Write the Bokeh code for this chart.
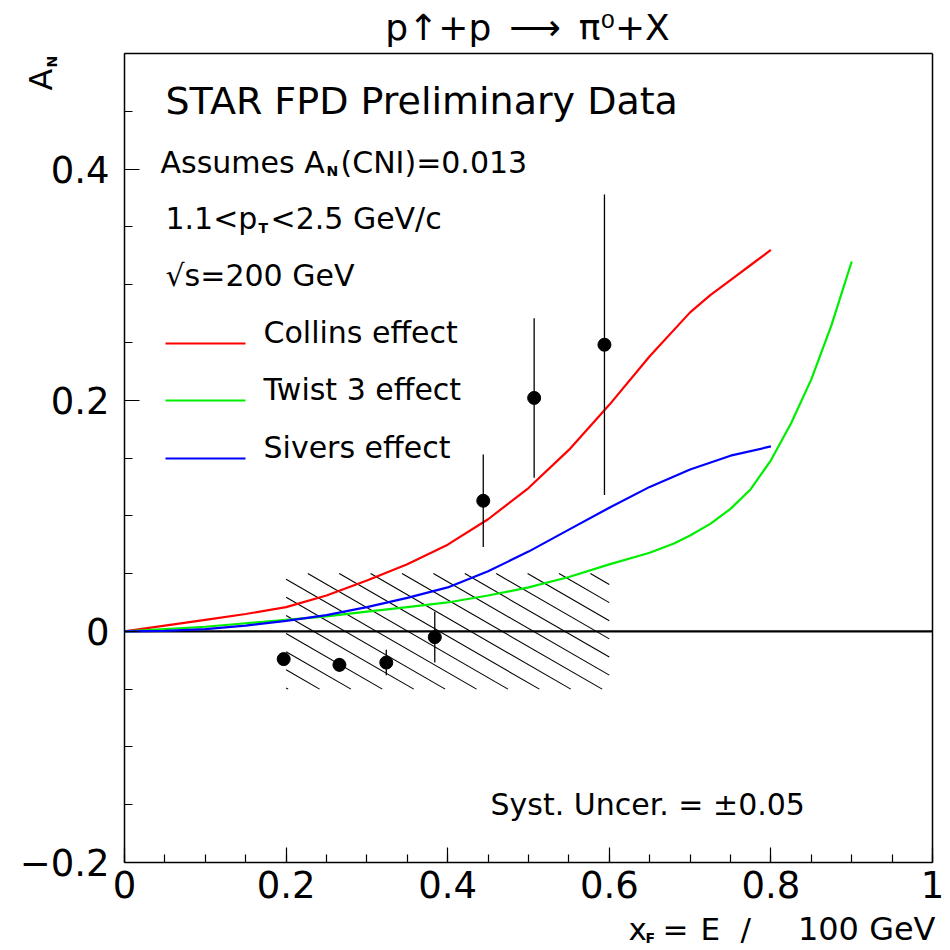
import numpy as np
from bokeh.plotting import figure
from bokeh.models import (Label, FixedTicker, CustomJSTickFormatter, Range1d,
                          LinearAxis)
from bokeh.embed import file_html
from bokeh.resources import INLINE

# ---------------- data ----------------
xf_points = [0.197, 0.266, 0.324, 0.384, 0.444, 0.507, 0.594]
an_points = [-0.024, -0.029, -0.027, -0.005, 0.113, 0.202, 0.248]
an_errors = [0.005, 0.006, 0.011, 0.022, 0.040, 0.069, 0.130]

collins_x = [0.0, 0.05, 0.1, 0.15, 0.2, 0.25, 0.3, 0.35, 0.4, 0.45, 0.5,
             0.55, 0.6, 0.65, 0.7, 0.725, 0.75, 0.775, 0.8]
collins_y = [0.0, 0.005, 0.010, 0.015, 0.021, 0.031, 0.044, 0.058, 0.075,
             0.097, 0.124, 0.157, 0.196, 0.238, 0.276, 0.291, 0.304, 0.317,
             0.330]

twist3_x = [0.0, 0.05, 0.1, 0.15, 0.2, 0.25, 0.3, 0.35, 0.4, 0.45, 0.5,
            0.55, 0.6, 0.65, 0.68, 0.7, 0.725, 0.75, 0.775, 0.8, 0.825,
            0.85, 0.875, 0.9]
twist3_y = [0.0, 0.002, 0.004, 0.007, 0.010, 0.013, 0.017, 0.021, 0.025,
            0.031, 0.038, 0.047, 0.058, 0.068, 0.076, 0.083, 0.093, 0.106,
            0.123, 0.148, 0.180, 0.218, 0.265, 0.320]

sivers_x = [0.0, 0.05, 0.1, 0.15, 0.2, 0.25, 0.3, 0.35, 0.4, 0.45, 0.5,
            0.55, 0.6, 0.65, 0.7, 0.75, 0.8]
sivers_y = [0.0, 0.0005, 0.002, 0.005, 0.009, 0.014, 0.021, 0.029, 0.038,
            0.052, 0.069, 0.088, 0.107, 0.125, 0.140, 0.152, 0.160]

syst_x_range = [0.2, 0.6]
syst_uncer = 0.05

x_ticks = [0.0, 0.2, 0.4, 0.6, 0.8, 1.0]
y_ticks = [-0.2, 0.0, 0.2, 0.4]

legend_labels = ["Collins effect", "Twist 3 effect", "Sivers effect"]
curve_colors = ["#ff0000", "#00ee00", "#0000ff"]

# ---------------- layout ----------------
W = H = 950
ML, MR, MT, MB = 124, 18, 53, 88          # where the drawn box sits
X_BOX = (0.0, 1.0)
Y_BOX = (-0.2, 0.5)
BW = W - ML - MR
BH = H - MT - MB
FONT = "DejaVu Sans"

# the Bokeh frame covers the whole canvas; the box is drawn by bounded axes
sx = (X_BOX[1] - X_BOX[0]) / BW
sy = (Y_BOX[1] - Y_BOX[0]) / BH
X_FULL = (X_BOX[0] - ML * sx, X_BOX[1] + MR * sx)
Y_FULL = (Y_BOX[0] - MB * sy, Y_BOX[1] + MT * sy)


def to_x(px):
    return X_FULL[0] + px * sx


def to_y(py):
    return Y_FULL[1] - py * sy


def px_of(x):
    return (x - X_FULL[0]) / sx


def py_of(y):
    return (Y_FULL[1] - y) / sy


p = figure(width=W, height=H, x_range=Range1d(*X_FULL),
           y_range=Range1d(*Y_FULL), output_backend="svg",
           toolbar_location=None, min_border=0)
p.min_border_left = p.min_border_right = 0
p.min_border_top = p.min_border_bottom = 0
p.xgrid.visible = False
p.ygrid.visible = False
p.outline_line_color = None
p.background_fill_color = "white"
p.border_fill_color = "white"

fmt = CustomJSTickFormatter(code="""
    if (Math.abs(tick) < 1e-9) return '0';
    if (Math.abs(tick - 1) < 1e-9) return '1';
    return tick.toFixed(1).replace('-', '\u2212');
""")

p.xaxis.fixed_location = Y_BOX[0]
p.xaxis.bounds = X_BOX
p.yaxis.fixed_location = X_BOX[0]
p.yaxis.bounds = Y_BOX

for ax, ticks, (lo, hi) in ((p.xaxis[0], x_ticks, X_BOX),
                            (p.yaxis[0], y_ticks, Y_BOX)):
    ax.ticker = FixedTicker(ticks=ticks,
                            minor_ticks=list(np.round(np.arange(lo, hi + 1e-9, 0.05), 3)))
    ax.formatter = fmt
    ax.major_tick_in = 15
    ax.major_tick_out = 0
    ax.minor_tick_in = 8
    ax.minor_tick_out = 0
    ax.axis_line_width = 1.5
    ax.major_tick_line_width = 1.2
    ax.minor_tick_line_width = 1.2
    ax.major_label_text_font = FONT
    ax.major_label_text_font_size = "37px"
    ax.major_label_text_color = "black"
p.xaxis.major_label_standoff = 8
p.yaxis.major_label_standoff = 15

# plain top and right edges of the box
for loc, fixed, bnds in (("above", Y_BOX[1], X_BOX), ("right", X_BOX[1], Y_BOX)):
    edge = LinearAxis(fixed_location=fixed, bounds=bnds,
                      ticker=FixedTicker(ticks=[]), axis_line_width=1.5,
                      major_tick_in=0, major_tick_out=0,
                      minor_tick_in=0, minor_tick_out=0,
                      major_label_text_alpha=0)
    p.add_layout(edge, loc)

# ---------------- systematic hatch box ----------------
u0, u1 = px_of(syst_x_range[0]), px_of(syst_x_range[1])
v_top, v_bot = py_of(syst_uncer), py_of(-syst_uncer)
slope = np.tan(np.radians(30))
dv = 31.4 * slope
ua = u0 + 21.7
hx, hy = [], []
kmin = -int(np.ceil((u1 - u0) * slope / dv)) - 2
kmax = int(np.ceil((v_bot - v_top) / dv)) + 2
for k in range(kmin, kmax + 1):
    lo = max(u0, ua - k * dv / slope)
    hi = min(u1, ua + (v_bot - v_top - k * dv) / slope)
    if hi - lo > 0.5:
        va = v_top + slope * (lo - ua) + k * dv
        vb = v_top + slope * (hi - ua) + k * dv
        hx.append([to_x(lo), to_x(hi)])
        hy.append([to_y(va), to_y(vb)])
p.multi_line(hx, hy, line_color="black", line_width=1.1)

# zero line across the box
p.segment(x0=[X_BOX[0]], y0=[0.0], x1=[X_BOX[1]], y1=[0.0],
          line_color="black", line_width=2.2)

# ---------------- curves ----------------
for cx, cy, col in ((collins_x, collins_y, curve_colors[0]),
                    (twist3_x, twist3_y, curve_colors[1]),
                    (sivers_x, sivers_y, curve_colors[2])):
    p.line(cx, cy, line_color=col, line_width=2.2)

# ---------------- data points ----------------
lo_err = [y - e for y, e in zip(an_points, an_errors)]
hi_err = [y + e for y, e in zip(an_points, an_errors)]
p.segment(x0=xf_points, y0=lo_err, x1=xf_points, y1=hi_err,
          line_color="black", line_width=1.3)
p.scatter(xf_points, an_points, size=13, marker="circle",
          fill_color="black", line_color="black")


# ---------------- texts ----------------
def put(text, px, py, size, align="left", bold=False, angle=0.0):
    """px, py: where the text's baseline starts, in canvas pixels."""
    shift = 0.36 * size
    if angle:
        px -= shift
    else:
        py -= shift
    p.add_layout(Label(x=to_x(px), y=to_y(py), text=text, text_font=FONT,
                       text_font_size=f"{size}px", text_align=align,
                       text_baseline="alphabetic", text_color="black",
                       text_font_style="bold" if bold else "normal",
                       angle=angle))


# ---------------- legend (sample line on the text baseline) ----------------
LEG_X0, LEG_X1, LEG_TX = 165, 245, 263
leg_base = [343, 400, 458]
p.segment(x0=[to_x(LEG_X0)] * 3, y0=[to_y(b) for b in leg_base],
          x1=[to_x(LEG_X1)] * 3, y1=[to_y(b) for b in leg_base],
          line_color=curve_colors, line_width=2.2)
for lab, b in zip(legend_labels, leg_base):
    put(lab, LEG_TX, b, 30)

EN = "\u2002"
put("p\u2191+p" + EN + "\u27f6" + EN + "\u03c0\u2070+X", 527, 40, 36,
    align="center")
put("STAR FPD Preliminary Data", 165, 114, 38)
put("Assumes A", 160, 173, 30)
put("N", 326, 176, 14, bold=True)
put("(CNI)=0.013", 340, 173, 30)
put("1.1<p", 165, 229, 30)
put("T", 258, 233, 14, bold=True)
put("<2.5 GeV/c", 270, 229, 30)
put("\u221as=200 GeV", 165, 286, 30)
put("Syst. Uncer. = \u00b10.05", 490, 815, 30)
# x-axis title: x_F = E / 100 GeV
put("x", 628, 940, 31)
put("F", 645, 943, 14, bold=True)
put("=", 662, 940, 31)
put("E", 700, 940, 31)
put("/", 740, 940, 31)
put("100 GeV", 935, 940, 32, align="right")
# y-axis title: A_N
put("A", 52, 90, 32, angle=np.pi / 2)
put("N", 57, 67, 14, bold=True, angle=np.pi / 2)

open("out.html", "w").write(file_html(p, INLINE))
